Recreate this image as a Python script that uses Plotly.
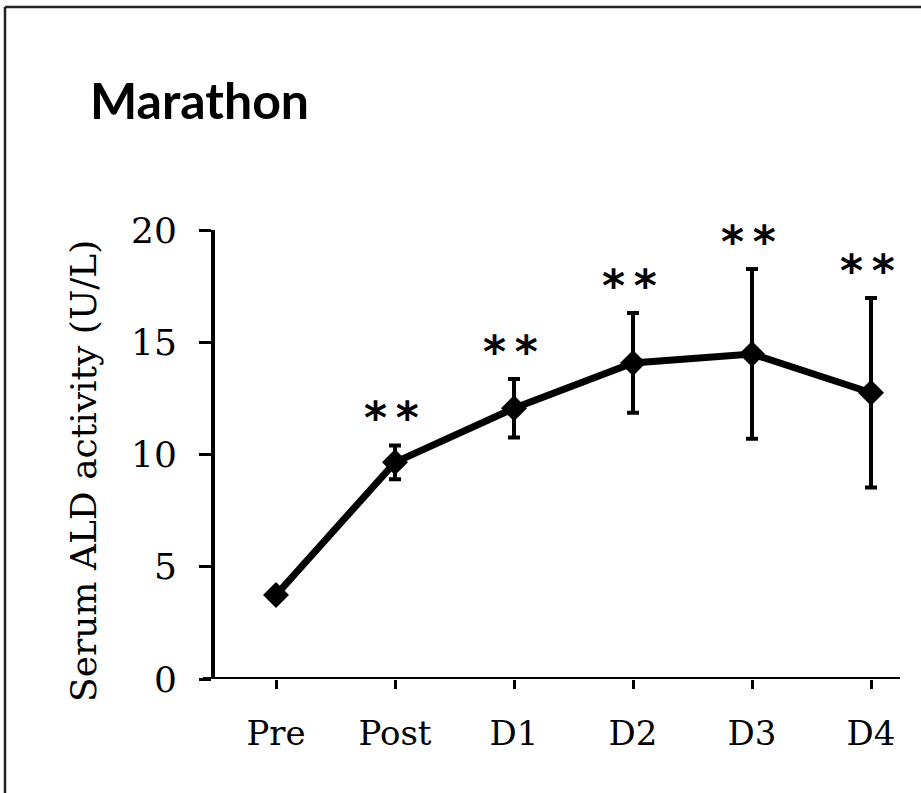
import plotly.graph_objects as go

# Serum aldolase (ALD) activity before and after a marathon
timepoints = ["Pre", "Post", "D1", "D2", "D3", "D4"]
ald_mean = [3.74, 9.65, 12.06, 14.08, 14.48, 12.75]
ald_sd = [0.0, 0.75, 1.3, 2.22, 3.78, 4.22]
significance = ["", "**", "**", "**", "**", "**"]
y_ticks = [0, 5, 10, 15, 20]

x_pos = list(range(len(timepoints)))

W, H = 921, 793
L, R, T, B = 215, 21, 230, 114
pw, ph = W - L - R, H - T - B


def px_x(px):
    return (px - L) / pw


def px_y(py):
    return (H - B - py) / ph


serif = "DejaVu Serif"

fig = go.Figure()
fig.add_trace(go.Scatter(
    x=x_pos,
    y=ald_mean,
    mode="lines+markers",
    line=dict(color="black", width=7),
    marker=dict(symbol="diamond", size=20, color="black"),
    error_y=dict(type="data", array=ald_sd, visible=True,
                 color="black", thickness=4, width=6),
    showlegend=False,
    cliponaxis=False,
))

# significance marks above each error bar
for xi, m, s, lab in zip(x_pos, ald_mean, ald_sd, significance):
    if lab:
        fig.add_annotation(
            x=xi, y=m + s, xref="x", yref="y",
            text="<b>*&#8201;*</b>", showarrow=False,
            font=dict(family="DejaVu Sans", size=44, color="black"),
            xanchor="center", yanchor="middle", yshift=28, xshift=-4,
        )

# y-axis title
fig.add_annotation(
    x=px_x(83), y=px_y(471), xref="paper", yref="paper",
    text="Serum ALD activity (U/L)", textangle=-90, showarrow=False,
    font=dict(family=serif, size=36, color="black"),
    xanchor="center", yanchor="middle",
)

# panel heading
fig.add_annotation(
    x=px_x(88), y=px_y(100), xref="paper", yref="paper",
    text="<b>Marathon</b>", showarrow=False,
    font=dict(family="Lato", size=50, color="black"),
    xanchor="left", yanchor="middle",
)

# x-axis baseline extending slightly past the y-axis
fig.add_shape(type="line", xref="paper", yref="y",
              x0=px_x(203), x1=px_x(900), y0=0, y1=0,
              line=dict(color="black", width=4))

# outer frame: top and left edges
fig.add_shape(type="line", xref="paper", yref="paper",
              x0=px_x(5), x1=px_x(W + 5), y0=px_y(7), y1=px_y(7),
              line=dict(color="#222222", width=2.5))
fig.add_shape(type="line", xref="paper", yref="paper",
              x0=px_x(5), x1=px_x(5), y0=px_y(7), y1=px_y(H + 5),
              line=dict(color="#222222", width=2.5))

fig.update_xaxes(
    range=[(L - 276) / 119, (W - R - 276) / 119],
    tickvals=x_pos, ticktext=timepoints,
    showline=False, showgrid=False, zeroline=False,
    ticks="outside", ticklen=9, tickwidth=3, tickcolor="black",
    tickfont=dict(family=serif, size=34, color="black"),
    ticklabelstandoff=15,
)
fig.update_yaxes(
    range=[0, 20], tickvals=y_ticks,
    showline=True, linecolor="black", linewidth=4,
    showgrid=False, zeroline=False,
    ticks="outside", ticklen=12, tickwidth=3, tickcolor="black",
    tickfont=dict(family=serif, size=36, color="black"),
    ticklabelstandoff=15,
)

fig.update_layout(
    width=W, height=H,
    margin=dict(l=L, r=R, t=T, b=B),
    paper_bgcolor="white", plot_bgcolor="white",
)

fig.write_html("out.html")
